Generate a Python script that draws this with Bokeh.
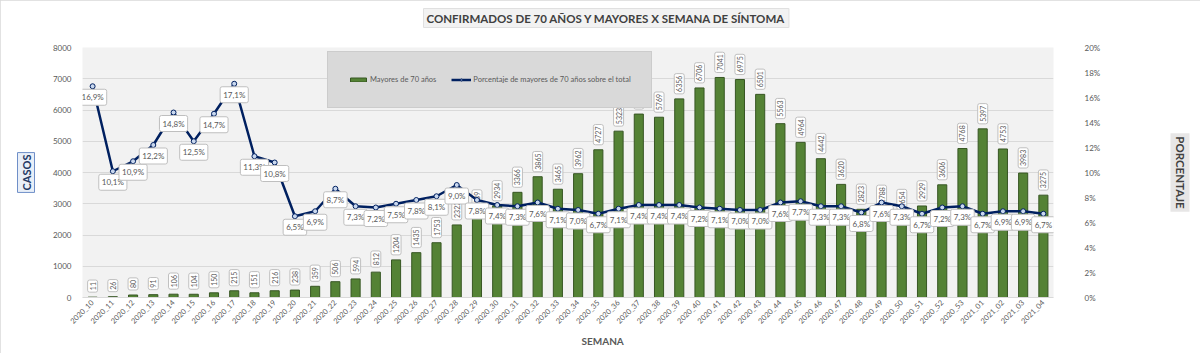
import math
from bokeh.plotting import figure
from bokeh.models import (ColumnDataSource, Range1d, LinearAxis, SingleIntervalTicker,
                          PrintfTickFormatter, Legend, LegendItem, Title, FactorRange)
from bokeh.core.properties import value
from bokeh.embed import file_html
from bokeh.resources import INLINE

weeks = [f"2020_{i}" for i in range(10, 54)] + ["2021_01", "2021_02", "2021_03", "2021_04"]
cases = [11, 26, 80, 91, 106, 104, 150, 215, 151, 216, 238, 359, 506, 594, 812, 1204,
         1435, 1753, 2322, 2639, 2934, 3366, 3865, 3465, 3962, 4727, 5323, 5870, 5769,
         6356, 6706, 7041, 6975, 6501, 5563, 4964, 4442, 3620, 2823, 2788, 2654, 2929,
         3606, 4768, 5397, 4753, 3983, 3275]
pct = [16.9, 10.1, 10.9, 12.2, 14.8, 12.5, 14.7, 17.1, 11.3, 10.8, 6.5, 6.9, 8.7, 7.3,
       7.2, 7.5, 7.8, 8.1, 9.0, 7.8, 7.4, 7.3, 7.6, 7.1, 7.0, 6.7, 7.1, 7.4, 7.4, 7.4,
       7.2, 7.1, 7.0, 7.0, 7.6, 7.7, 7.3, 7.3, 6.8, 7.6, 7.3, 6.7, 7.2, 7.3, 6.7, 6.9,
       6.9, 6.7]

title_text = "CONFIRMADOS DE 70 AÑOS Y MAYORES X SEMANA DE SÍNTOMA"
bar_name = "Mayores de 70 años"
line_name = "Porcentaje de mayores de 70 años sobre el total"

FONT = "Lato"
GRAY = "#595959"

src = ColumnDataSource(dict(
    week=weeks, cases=cases, pct=pct,
    cases_txt=[str(c) for c in cases],
    pct_txt=[f"{v:.1f}%".replace(".", ",") for v in pct],
))

p = figure(width=1200, height=353, x_range=FactorRange(*weeks), y_range=Range1d(0, 8000),
           output_backend="svg", toolbar_location=None,
           min_border_left=77, min_border_right=147, min_border_top=46, min_border_bottom=56)
p.styles = {"outline": "1px solid #d9d9d9", "outline-offset": "-1px"}
p.extra_y_ranges = {"pct": Range1d(0, 20)}
p.background_fill_color = "#f2f2f2"
p.border_fill_color = "white"
p.outline_line_color = None
p.xgrid.grid_line_color = None
p.ygrid.grid_line_color = "#d9d9d9"
p.yaxis.ticker = SingleIntervalTicker(interval=1000)
p.x_range.range_padding = 0.0

bars = p.vbar(x="week", top="cases", width=0.45, source=src,
              fill_color="#548235", line_color="#375623", line_width=1)

p.text(x="week", y="cases", text="cases_txt", source=src, angle=math.pi / 2,
       text_align="left", text_baseline="middle", x_offset=0, y_offset=-5,
       text_font=value(FONT), text_font_size="7px", text_color=GRAY,
       background_fill_color="white", border_line_color="#bfbfbf", border_line_width=1,
       padding=2, border_radius=2)

ln = p.line(x="week", y="pct", source=src, y_range_name="pct",
            line_color="#002060", line_width=2.5)
mk = p.scatter(x="week", y="pct", source=src, y_range_name="pct", size=5,
               fill_color="#c9d8ef", line_color="#002060", line_width=1)

p.text(x="week", y="pct", text="pct_txt", source=src, y_range_name="pct",
       text_align="center", text_baseline="middle", y_offset=11,
       text_font=value(FONT), text_font_size="8px", text_color=GRAY,
       background_fill_color="white", border_line_color="#bfbfbf", border_line_width=1,
       padding=3, border_radius=2)

for ax in [p.yaxis[0]]:
    ax.axis_line_color = None
    ax.major_tick_line_color = None
    ax.minor_tick_line_color = None
    ax.major_label_text_font = FONT
    ax.major_label_text_font_size = "8px"
    ax.major_label_text_color = GRAY

rax = LinearAxis(y_range_name="pct", ticker=SingleIntervalTicker(interval=2),
                 formatter=PrintfTickFormatter(format="%d%%"))
rax.axis_line_color = None
rax.major_tick_line_color = None
rax.minor_tick_line_color = None
rax.major_label_text_font = FONT
rax.major_label_text_font_size = "8px"
rax.major_label_text_color = GRAY
rax.major_label_standoff = 25
p.add_layout(rax, "right")

xa = p.xaxis[0]
xa.axis_line_color = "#d9d9d9"
xa.major_tick_line_color = None
xa.minor_tick_line_color = None
xa.major_tick_out = 0
xa.major_label_standoff = 4
xa.major_label_orientation = math.pi / 4
xa.major_label_text_font = FONT
xa.major_label_text_font_size = "7.5px"
xa.major_label_text_color = GRAY

legend = Legend(items=[LegendItem(label=bar_name, renderers=[bars]),
                       LegendItem(label=line_name, renderers=[ln, mk])],
                orientation="horizontal", location=(245, 189),
                background_fill_color="#d9d9d9", background_fill_alpha=1,
                border_line_color="#bfbfbf", padding=20, spacing=15,
                label_text_font=FONT, label_text_font_size="7.5px", label_text_color=GRAY,
                glyph_width=20, glyph_height=5, label_height=15, label_standoff=2, margin=0)
p.add_layout(legend, "center")

# spacer above the frame, then the chart title further out
p.title.text = ""
p.title.visible = False
p.add_layout(Title(text=" ", text_font_size="11px", standoff=0), "above")
p.add_layout(Title(text=title_text, align="left", offset=341, standoff=12, padding=3,
                   text_font=FONT, text_font_size="11.5px", text_font_style="bold",
                   text_color="#404040", background_fill_color="#f2f2f2",
                   border_line_color="#e0e0e0"), "above")

p.add_layout(Title(text="SEMANA", align="left", offset=499, standoff=2,
                   text_font=FONT, text_font_size="10px", text_font_style="bold",
                   text_color=GRAY), "below")

p.add_layout(Title(text="CASOS", align="center", standoff=30, padding=2,
                   text_font=FONT, text_font_size="11px", text_font_style="bold",
                   text_color="#1f3864", background_fill_color="#e9eff8",
                   border_line_color="#6f8fc8"), "left")

p.add_layout(Title(text=" ", text_font_size="10px", standoff=54), "right")
p.add_layout(Title(text="PORCENTAJE", align="center", standoff=0, padding=3,
                   text_font=FONT, text_font_size="11.5px", text_font_style="bold",
                   text_color="#404040", background_fill_color="#e7e6e6"), "right")

open("out.html", "w").write(file_html(p, INLINE))
